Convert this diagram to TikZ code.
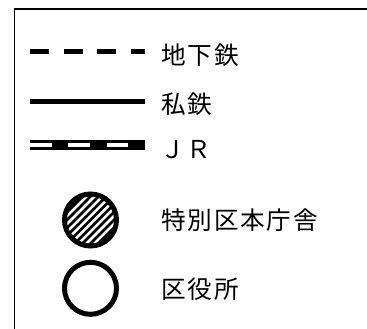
\documentclass[tikz,border=0pt]{standalone}
\usepackage{fontspec}
\newfontfamily\jp{Noto Sans CJK JP}[LetterSpace=7]
\begin{document}
\begin{tikzpicture}[x=0.75pt,y=-0.75pt,
  lbl/.style={anchor=west,inner sep=0pt,font=\jp\fontsize{18.5pt}{22pt}\selectfont},
  sample/.style={line width=3.5pt},
  office/.style={circle,draw,line width=3.75pt,minimum size=39pt,inner sep=0pt}]
\useasboundingbox (0,0) rectangle (367,328);
\begin{scope}
\clip (0,0) rectangle (367,328);
\draw[line width=1.4pt] (14.5,9) rectangle (420,420);
\end{scope}
% samples
\coordinate (d1) at (30,51.7); \coordinate (d2) at (145,51.7);
\coordinate (s1) at (30,101.7); \coordinate (s2) at (145,101.7);
\coordinate (j1) at (30,145); \coordinate (j2) at (145,145);
\draw[sample,dash pattern=on 14.25pt off 10.875pt] (d1) -- (d2);
\draw[sample] (s1) -- (s2);
\draw[line width=7pt] (j1) -- (j2);
\draw[white,line width=3.4pt,dash pattern=on 16.3pt off 12.45pt] (j1) -- (j2);
\node[office,path picture={
  \foreach \k in {-10,...,10} {
    \pgfmathsetmacro{\a}{3.9*\k}
    \draw[line width=2pt]
      ([shift={(\a-40,\a+40)}]path picture bounding box.center) --
      ([shift={(\a+40,\a-40)}]path picture bounding box.center);
  }}] (hq) at (90.5,220) {};
\node[office] (ward) at (90.5,288.3) {};
% labels
\node[lbl] (t1) at (161,55) {地下鉄};
\node[lbl] (t2) at (161,104) {私鉄};
\node[lbl,anchor=base west] (t3) at (160,158.3) {ＪＲ};
\node[lbl] (t4) at (161,220) {特別区本庁舎};
\node[lbl] (t5) at (161,289) {区役所};
\end{tikzpicture}
\end{document}
